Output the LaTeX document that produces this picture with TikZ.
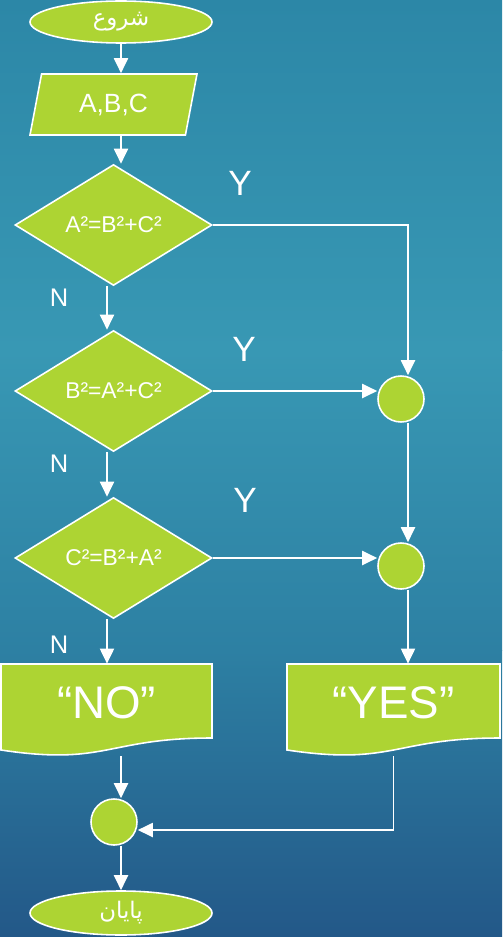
\documentclass[tikz,border=0pt]{standalone}
\usepackage{fontspec}
\setmainfont{Liberation Sans}
\newfontfamily\arabicfont[Script=Arabic]{DejaVu Sans}
\TeXXeTstate=1
\usetikzlibrary{shapes.geometric,arrows.meta}
\definecolor{leafgreen}{HTML}{ADD433}
\definecolor{seatop}{HTML}{2C87A7}
\definecolor{seamid}{HTML}{3898B4}
\definecolor{sealow}{HTML}{2D80A3}
\definecolor{seabot}{HTML}{235888}
\begin{document}
\begin{tikzpicture}[>={Triangle[length=0.3cm,width=0.28cm]}]
\tikzset{
  terminal/.style={draw=white,fill=leafgreen,line width=0.9pt,shape=ellipse,minimum width=3.64cm,minimum height=0.84cm,inner sep=0pt,text=white,font=\fontsize{13}{15}\selectfont},
  io/.style={draw=white,fill=leafgreen,line width=0.9pt,shape=trapezium,trapezium left angle=62,trapezium right angle=118,trapezium stretches body,minimum width=3.34cm,minimum height=1.22cm,inner sep=0pt,text=white,font=\fontsize{15}{18}\selectfont},
  decision/.style={draw=white,fill=leafgreen,line width=0.9pt,shape=diamond,minimum width=3.94cm,minimum height=2.42cm,inner sep=0pt,text=white,font=\fontsize{13}{15}\selectfont},
  junction/.style={draw=white,fill=leafgreen,line width=0.9pt,shape=circle,minimum size=0.92cm,inner sep=0pt},
  doc/.style={draw=white,fill=leafgreen,line width=0.9pt},
  doctext/.style={minimum width=4.2cm,minimum height=1.84cm,inner sep=0pt,text depth=0.3cm,text=white,font=\fontsize{26}{30}\selectfont},
  flow/.style={->,draw=white,line width=1.1pt},
  answer/.style={text=white,inner sep=0pt}
}
\useasboundingbox (0,0) rectangle (10.04,-18.74);
% backdrop
\shade[top color=seatop,bottom color=seamid] (0,0) rectangle (10.04,-7.01);
\shade[top color=seamid,bottom color=sealow] (0,-7) rectangle (10.04,-13.01);
\shade[top color=sealow,bottom color=seabot] (0,-13) rectangle (10.04,-18.74);

\node[terminal] (start) at (2.42,-0.44) {\arabicfont\beginR شروع\endR};
\node[io] (in) at (2.27,-2.09) {A,B,C};
\node[decision] (d1) at (2.27,-4.50) {A²=B²+C²};
\node[decision] (d2) at (2.27,-7.82) {B²=A²+C²};
\node[decision] (d3) at (2.27,-11.16) {C²=B²+A²};
\node[junction] (c1) at (8.02,-7.98) {};
\node[junction] (c2) at (8.02,-11.32) {};
% printed output boxes
\path[doc] (0.02,-13.28) -- (4.24,-13.28) -- (4.24,-14.76) .. controls (2.13,-14.76) and (2.13,-15.32) .. (0.02,-15.00) -- cycle;
\path[doc] (5.74,-13.28) -- (10.00,-13.28) -- (10.00,-14.76) .. controls (7.87,-14.76) and (7.87,-15.32) .. (5.74,-15.00) -- cycle;
\node[doctext] (no) at (2.13,-14.20) {“NO”};
\node[doctext] (yes) at (7.87,-14.20) {“YES”};
\node[junction] (c3) at (2.28,-16.44) {};
\node[terminal,minimum height=0.88cm] (stop) at (2.42,-18.26) {\arabicfont\beginR پایان\endR};

\node[answer,font=\fontsize{20}{24}\selectfont] (y1) at (4.80,-3.66) {Y};
\node[answer,font=\fontsize{20}{24}\selectfont] (y2) at (4.88,-6.98) {Y};
\node[answer,font=\fontsize{20}{24}\selectfont] (y3) at (4.90,-10.00) {Y};
\node[answer,font=\fontsize{14.5}{17}\selectfont] (n1) at (1.18,-5.95) {N};
\node[answer,font=\fontsize{14.5}{17}\selectfont] (n2) at (1.18,-9.28) {N};
\node[answer,font=\fontsize{14.5}{17}\selectfont] (n3) at (1.18,-12.90) {N};

\coordinate (rcol) at (8.16,-7);
\coordinate (ncol) at (2.14,-7);
\draw[flow] (start) -- (start |- in.north);
\draw[flow] (in.south -| start) -- (d1.north -| start);
\draw[flow] (d1.east) -| (c1.north -| rcol);
\draw[flow] (d1.south -| ncol) -- (d2.north -| ncol);
\draw[flow] (d2.east) -- (d2.east -| c1.west);
\draw[flow] (c1.south -| rcol) -- (c2.north -| rcol);
\draw[flow] (d2.south -| ncol) -- (d3.north -| ncol);
\draw[flow] (d3.east) -- (d3.east -| c2.west);
\draw[flow] (c2.south -| rcol) -- (yes.north -| rcol);
\draw[flow] (d3.south -| ncol) -- (no.north -| ncol);
\draw[flow] (no.south -| start) -- (c3.north -| start);
\draw[flow] (yes.south) |- ([yshift=-0.16cm]c3.east);
\draw[flow] (c3.south -| start) -- (stop);
\end{tikzpicture}
\end{document}
